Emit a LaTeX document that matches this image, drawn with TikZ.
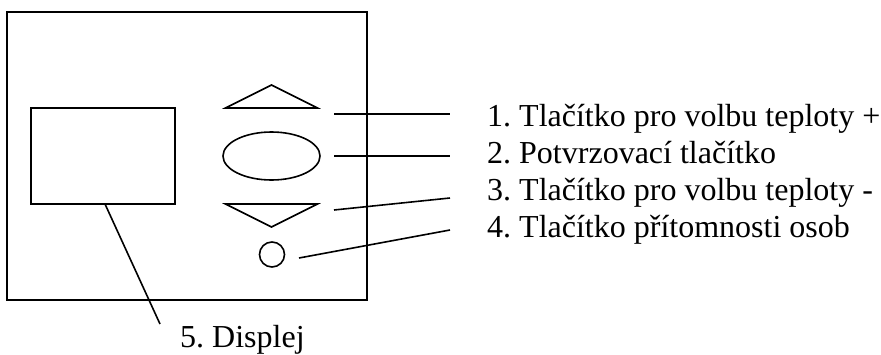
\documentclass[tikz,border=0pt]{standalone}
\usepackage{fontspec}
\setmainfont{Liberation Serif}
\usetikzlibrary{shapes.geometric}
\tikzset{
  shp/.style={draw=black,line width=1.6pt,line join=miter,outer sep=0pt},
  lead/.style={draw=black,line width=1.6pt},
  lab/.style={anchor=base west,inner sep=0pt,font=\fontsize{32pt}{36pt}\selectfont\frenchspacing}
}
\begin{document}
\begin{tikzpicture}[x=1pt,y=-1pt]
\useasboundingbox (0,0) rectangle (881,354);
\draw[shp] (7,12) rectangle (367,300);
\node[shp,rectangle,minimum width=144pt,minimum height=96pt,inner sep=0pt,anchor=north west] (disp) at (31,108) {};
\draw[shp] (225.5,108) -- (271.5,85) -- (317.5,108) -- cycle;
\node[shp,ellipse,minimum width=97pt,minimum height=48pt,inner sep=0pt] (ok) at (271.5,156) {};
\draw[shp] (225.5,204) -- (317.5,204) -- (271.5,227) -- cycle;
\node[shp,circle,minimum size=25pt,inner sep=0pt] (pres) at (272,254.5) {};
\coordinate (s1) at (334,114);
\coordinate (e1) at (450,114);
\coordinate (s2) at (334,156);
\coordinate (e2) at (450,156);
\coordinate (s3) at (334,210);
\coordinate (e3) at (450,198);
\coordinate (s4) at (299,258);
\coordinate (e4) at (450,230);
\coordinate (s5) at (105,204);
\coordinate (e5) at (160,324);
\draw[lead] (s1) -- (e1);
\draw[lead] (s2) -- (e2);
\draw[lead] (s3) -- (e3);
\draw[lead] (s4) -- (e4);
\draw[lead] (s5) -- (e5);
\node[lab] (t1) at (487,126) {1. Tlačítko pro volbu teploty +};
\node[lab] (t2) at (487,163) {2. Potvrzovací tlačítko};
\node[lab] (t3) at (487,200) {3. Tlačítko pro volbu teploty -};
\node[lab] (t4) at (487,237) {4. Tlačítko přítomnosti osob};
\node[lab] (t5) at (180,347) {5. Displej};
\end{tikzpicture}
\end{document}
